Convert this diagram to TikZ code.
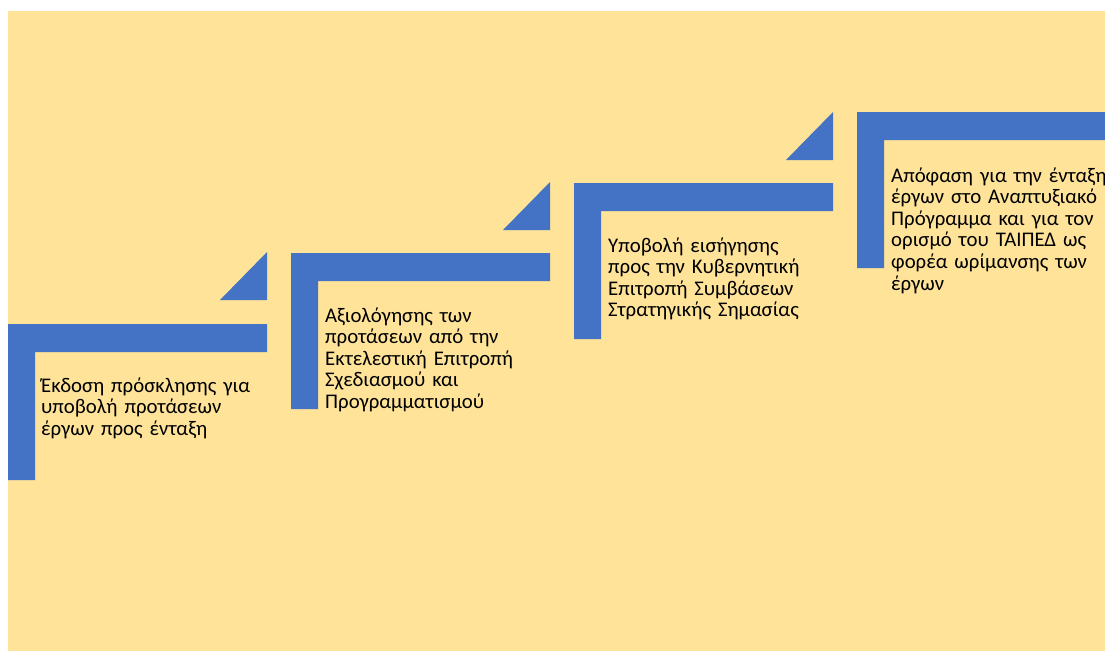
\documentclass[tikz,border=0pt]{standalone}
\usepackage{fontspec}
\setmainfont{Carlito}
\definecolor{paper}{RGB}{254,227,153}
\definecolor{stepblue}{RGB}{68,114,196}
\tikzset{
  stepshape/.style={fill=stepblue, draw=none},
  steplabel/.style={anchor=base west, inner sep=0pt, text width=250pt, align=left,
    font=\fontsize{20.8pt}{21.6pt}\selectfont, text=black}
}
\begin{document}
\begin{tikzpicture}[x=1pt,y=-1pt]
  \useasboundingbox (0,0) rectangle (1105,651);
  \clip (0,0) rectangle (1105,651);
  \fill[white] (0,0) rectangle (1105,651);
  \fill[paper] (8,11) rectangle (1105,651);
  % L-shaped steps, each one 283 to the right and 70.7 higher
  \foreach \x/\y in {8/324, 291/253, 574/183, 857/112} {
    \fill[stepshape] (\x,\y) -- ++(259,0) -- ++(0,28) -- ++(-232,0)
      -- ++(0,128) -- ++(-27,0) -- cycle;
  }
  % small triangles between the steps
  \foreach \x/\y in {267/300, 550/230, 833/160} {
    \fill[stepshape] (\x,\y) -- ++(0,-48) -- ++(-47,48) -- cycle;
  }
  \node[steplabel] (s1) at (41,392) {Έκδοση πρόσκλησης για\\ υποβολή προτάσεων\\ έργων προς ένταξη};
  \node[steplabel] (s2) at (325,322) {Αξιολόγησης των\\ προτάσεων από την\\ Εκτελεστική Επιτροπή\\ Σχεδιασμού και\\ Προγραμματισμού};
  \node[steplabel] (s3) at (608,252) {Υποβολή εισήγησης\\ προς την Κυβερνητική\\ Επιτροπή Συμβάσεων\\ Στρατηγικής Σημασίας};
  \node[steplabel] (s4) at (891,182) {Απόφαση για την ένταξη\\ έργων στο Αναπτυξιακό\\ Πρόγραμμα και για τον\\ ορισμό του ΤΑΙΠΕΔ ως\\ φορέα ωρίμανσης των\\ έργων};
\end{tikzpicture}
\end{document}
